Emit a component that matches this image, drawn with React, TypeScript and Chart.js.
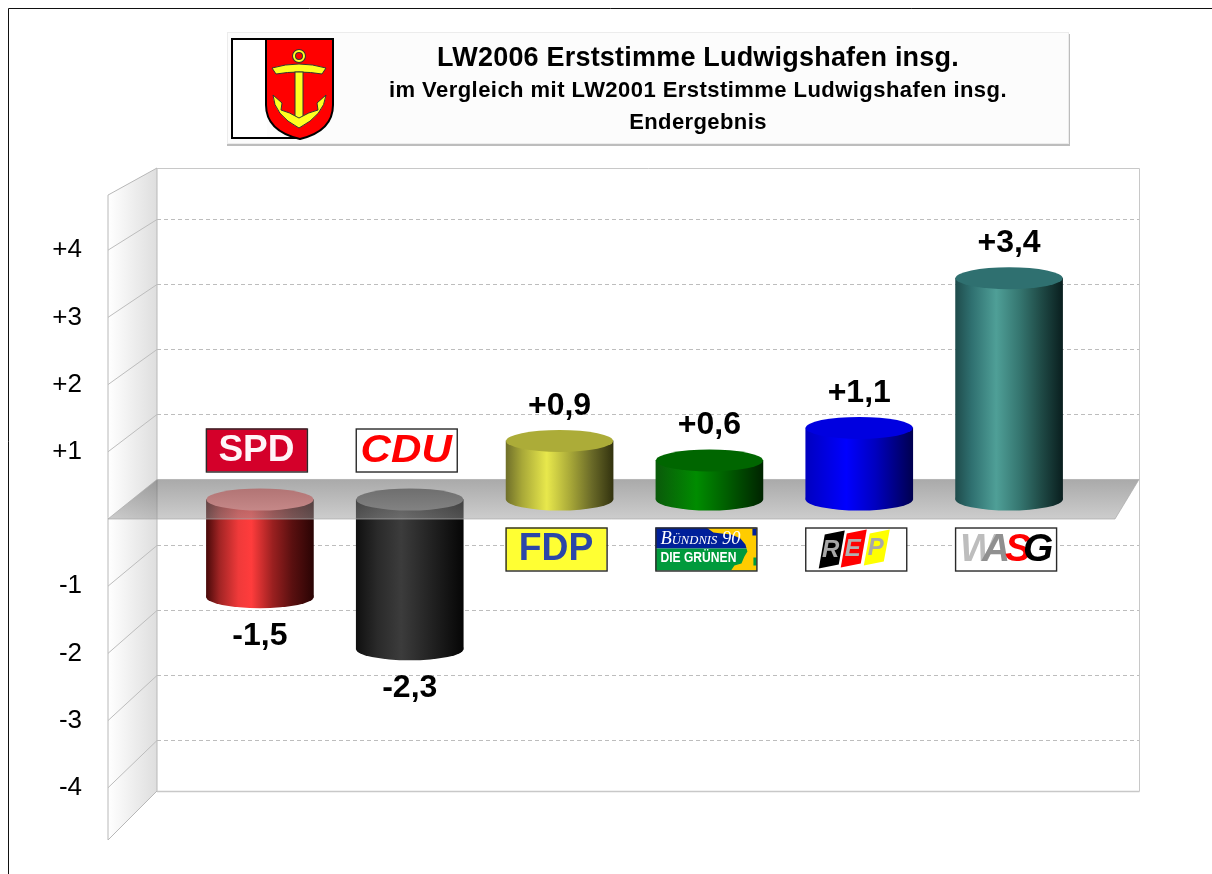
import React, { useEffect, useRef } from "react";
import { Chart, registerables } from "chart.js";

Chart.register(...registerables);

const FONT = '"Liberation Sans", Arial, sans-serif';

const parties = ["SPD", "CDU", "FDP", "BÜNDNIS 90 / DIE GRÜNEN", "REP", "WASG"];
const changes = [-1.5, -2.3, 0.9, 0.6, 1.1, 3.4];
const negativeChanges = [-1.5, -2.3, null, null, null, null];
const positiveChanges = [null, null, 0.9, 0.6, 1.1, 3.4];
const axisTicks = [4, 3, 2, 1, -1, -2, -3, -4];
const gridValues = [4, 3, 2, 1, -1, -2, -3, -4];
const titleLines = [
  "LW2006 Erststimme Ludwigshafen insg.",
  "im Vergleich mit LW2001 Erststimme Ludwigshafen insg.",
  "Endergebnis",
];
const sideStops: [number, string][][] = [
  [[0, "#4a0a0a"], [0.12, "#a02424"], [0.3, "#f03a3a"], [0.42, "#ff3c3c"], [0.62, "#9a2020"], [0.8, "#5a1010"], [1, "#2a0404"]],
  [[0, "#101010"], [0.2, "#2a2a2a"], [0.42, "#3c3c3c"], [0.7, "#222222"], [1, "#060606"]],
  [[0, "#70702a"], [0.15, "#a8a838"], [0.38, "#e8e84c"], [0.6, "#a8a838"], [0.8, "#6a6a28"], [1, "#33330f"]],
  [[0, "#0a5a0a"], [0.38, "#008c00"], [0.65, "#006000"], [1, "#002400"]],
  [[0, "#0000c0"], [0.38, "#0000ff"], [0.65, "#0000c0"], [1, "#000050"]],
  [[0, "#1f4c4c"], [0.15, "#2f7070"], [0.38, "#4f9f97"], [0.6, "#357670"], [0.8, "#1f4a46"], [1, "#0a1f1f"]],
];
const capColors = ["#ff8484", "#787878", "#acac38", "#006600", "#0000e0", "#2f7070"];

const BAR_W = 107;
const RY = 11;

function fmt(v: number) {
  const s = Math.abs(v).toFixed(1).replace(".", ",");
  return (v > 0 ? "+" : "-") + s;
}

function label(c: CanvasRenderingContext2D, t: string, x: number, y: number, font: string, color: string, sx = 1) {
  c.save();
  c.font = font;
  c.fillStyle = color;
  c.textAlign = "center";
  c.textBaseline = "middle";
  c.translate(x, y);
  c.scale(sx, 1);
  c.fillText(t, 0, 0);
  c.restore();
}

function box(c: CanvasRenderingContext2D, x: number, y: number, w: number, h: number, fill: string) {
  c.fillStyle = fill;
  c.fillRect(x, y, w, h);
}

function frameBox(c: CanvasRenderingContext2D, x: number, y: number, w: number, h: number) {
  c.strokeStyle = "#2a2a2a";
  c.lineWidth = 1.4;
  c.strokeRect(x + 0.5, y + 0.5, w, h);
}

function para(c: CanvasRenderingContext2D, x: number, y: number, w: number, h: number, skew: number, fill: string) {
  c.fillStyle = fill;
  c.beginPath();
  c.moveTo(x + skew, y + 4);
  c.lineTo(x + skew + w, y);
  c.lineTo(x + w, y + h - 4);
  c.lineTo(x, y + h);
  c.closePath();
  c.fill();
}

function drawLogo(c: CanvasRenderingContext2D, i: number, x: number, y: number) {
  const w = 101;
  const h = 43;
  const cx = x + w / 2;
  const cy = y + h / 2 + 1;
  if (i === 0) {
    box(c, x, y, w, h, "#d4002a");
    label(c, "SPD", cx, cy, `bold 37px ${FONT}`, "#fff4f8");
  } else if (i === 1) {
    box(c, x, y, w, h, "#fff");
    label(c, "CDU", cx, cy, `italic bold 39px ${FONT}`, "#ff0000", 1.08);
  } else if (i === 2) {
    box(c, x, y, w, h, "#ffff33");
    label(c, "FDP", cx, cy, `bold 38px ${FONT}`, "#2b46a8", 0.98);
  } else if (i === 3) {
    box(c, x, y, w, 21, "#00209a");
    box(c, x, y + 21, w, h - 21, "#009a3c");
    c.save();
    c.beginPath();
    c.rect(x, y, w, h);
    c.clip();
    c.fillStyle = "#ffcc00";
    c.beginPath();
    c.moveTo(x + 51, y);
    c.lineTo(x + 102, y);
    c.lineTo(x + 102, y + 44);
    c.lineTo(x + 75, y + 44);
    c.lineTo(x + 79, y + 38);
    c.lineTo(x + 86, y + 36);
    c.lineTo(x + 89, y + 29);
    c.lineTo(x + 92, y + 24);
    c.lineTo(x + 90, y + 17);
    c.lineTo(x + 85, y + 11);
    c.lineTo(x + 76, y + 7);
    c.lineTo(x + 66, y + 6);
    c.lineTo(x + 58, y + 5);
    c.closePath();
    c.fill();
    c.restore();
    c.fillStyle = "#00209a";
    c.fillRect(x + 97, y + 1, 4, 7);
    c.fillStyle = "#009a3c";
    c.fillRect(x + 98, y + 30, 3, 8);
    c.save();
    c.font = "italic small-caps 19px 'Liberation Serif', serif";
    c.fillStyle = "#ffffff";
    c.textBaseline = "middle";
    c.fillText("Bündnis 90", x + 5, y + 11, 80);
    c.font = `bold 14px ${FONT}`;
    c.fillText("DIE GRÜNEN", x + 5, y + 31, 76);
    c.restore();
  } else if (i === 4) {
    box(c, x, y, w, h, "#fff");
    para(c, cx - 37, y + 3, 20, 38, 6, "#000");
    para(c, cx - 15, y + 2, 20, 38, 6, "#ff0000");
    para(c, cx + 8, y + 2, 20, 36, 6, "#ffff00");
    label(c, "R", cx - 25, cy, `italic bold 24px ${FONT}`, "#a8a8a8");
    label(c, "E", cx - 3, cy - 1, `italic bold 24px ${FONT}`, "#b0b0b0");
    label(c, "P", cx + 20, cy - 2, `italic bold 24px ${FONT}`, "#a8a8a8");
  } else {
    box(c, x, y, w, h, "#fff");
    c.save();
    c.font = `italic bold 39px ${FONT}`;
    c.textBaseline = "middle";
    c.textAlign = "left";
    c.fillStyle = "#bdbdbd";
    c.fillText("W", x + 5, cy);
    c.fillStyle = "#909090";
    c.fillText("A", x + 27, cy);
    c.fillStyle = "#ff0000";
    c.fillText("S", x + 50, cy);
    c.fillStyle = "#000";
    c.fillText("G", x + 68, cy);
    c.restore();
  }
  frameBox(c, x, y, w, h);
}

function drawArms(c: CanvasRenderingContext2D) {
  c.save();
  c.fillStyle = "#fff";
  c.fillRect(231, 38, 36, 100);
  c.strokeStyle = "#000";
  c.lineWidth = 2;
  c.beginPath();
  c.moveTo(266, 39);
  c.lineTo(232, 39);
  c.lineTo(232, 138);
  c.lineTo(300, 138);
  c.stroke();
  c.beginPath();
  c.moveTo(266, 39);
  c.lineTo(333, 39);
  c.lineTo(333, 105);
  c.quadraticCurveTo(333, 131, 300, 139);
  c.quadraticCurveTo(266, 131, 266, 105);
  c.closePath();
  c.fillStyle = "#ff0000";
  c.fill();
  c.stroke();
  c.fillStyle = "#ffff20";
  c.beginPath();
  c.arc(299, 56, 5, 0, Math.PI * 2);
  c.lineWidth = 4;
  c.strokeStyle = "#333";
  c.stroke();
  c.lineWidth = 2;
  c.strokeStyle = "#ffff20";
  c.stroke();
  c.lineWidth = 1;
  c.strokeStyle = "#333";
  c.beginPath();
  c.moveTo(272, 68);
  c.quadraticCurveTo(299, 60, 326, 68);
  c.lineTo(322, 74);
  c.quadraticCurveTo(299, 70, 276, 74);
  c.closePath();
  c.fill();
  c.stroke();
  c.fillRect(295, 72, 8, 48);
  c.strokeRect(295, 72, 8, 48);
  c.beginPath();
  c.moveTo(273, 95);
  c.quadraticCurveTo(274, 115, 299, 128);
  c.quadraticCurveTo(324, 115, 326, 95);
  c.lineTo(317, 103);
  c.lineTo(318, 110);
  c.quadraticCurveTo(309, 112, 299, 118);
  c.quadraticCurveTo(289, 112, 281, 110);
  c.lineTo(282, 103);
  c.closePath();
  c.fill();
  c.stroke();
  c.restore();
}

const scene = {
  id: "scene",
  beforeDraw(chart: any) {
    const c: CanvasRenderingContext2D = chart.ctx;
    c.save();
    c.fillStyle = "#fff";
    c.fillRect(0, 0, chart.width, chart.height);
    c.strokeStyle = "#111";
    c.lineWidth = 1;
    c.beginPath();
    c.moveTo(8.5, 874);
    c.lineTo(8.5, 8.5);
    c.lineTo(1212, 8.5);
    c.stroke();
    c.fillStyle = "#bdbdbd";
    c.fillRect(227, 34, 843, 112);
    c.fillStyle = "#fcfcfc";
    c.fillRect(228, 33, 840, 110);
    c.strokeStyle = "#ececec";
    c.strokeRect(227.5, 32.5, 841, 111);
    drawArms(c);
    c.restore();
  },
  beforeDatasetsDraw(chart: any) {
    const c: CanvasRenderingContext2D = chart.ctx;
    const back = chart.scales.yBack;
    const front = chart.scales.yFront;
    const bars = chart.scales.yBars;
    const x = chart.scales.x;
    const L0 = 108;
    const L1 = 157;
    const R1 = 1139;
    const topV = 4.785;
    const botV = -4.785;
    const bt = back.getPixelForValue(topV);
    const bb = back.getPixelForValue(botV);
    const ft = front.getPixelForValue(4.82);
    const fb = front.getPixelForValue(-4.777);
    c.save();
    const g = c.createLinearGradient(L0, 0, L1, 0);
    g.addColorStop(0, "#ffffff");
    g.addColorStop(1, "#dedede");
    c.fillStyle = g;
    c.beginPath();
    c.moveTo(L0, ft);
    c.lineTo(L1, bt);
    c.lineTo(L1, bb);
    c.lineTo(L0, fb);
    c.closePath();
    c.fill();
    c.strokeStyle = "#b8b8b8";
    c.lineWidth = 1;
    c.stroke();
    c.strokeStyle = "#c8c8c8";
    c.lineWidth = 1;
    c.beginPath();
    c.moveTo(L1, bt + 0.5);
    c.lineTo(R1 + 0.5, bt + 0.5);
    c.lineTo(R1 + 0.5, bb + 0.5);
    c.stroke();
    c.lineWidth = 1.5;
    c.beginPath();
    c.moveTo(L1, bb + 0.5);
    c.lineTo(R1 + 0.5, bb + 0.5);
    c.stroke();
    gridValues.forEach((v) => {
      const yb = Math.round(back.getPixelForValue(v)) + 0.5;
      c.strokeStyle = "#bdbdbd";
      c.lineWidth = 1;
      c.setLineDash([4, 3]);
      c.beginPath();
      c.moveTo(L1, yb);
      c.lineTo(R1, yb);
      c.stroke();
      c.setLineDash([]);
      c.beginPath();
      c.moveTo(L1, yb);
      c.lineTo(L0, front.getPixelForValue(v));
      c.stroke();
    });
    const zero = bars.getPixelForValue(0);
    parties.forEach((_, i) => {
      const lx = x.getPixelForValue(i) - 54;
      const ly = changes[i] < 0 ? zero - 71 : zero + 28;
      drawLogo(c, i, lx, ly);
    });
    c.restore();
  },
  beforeDatasetDraw(chart: any, args: any) {
    if (args.index !== 0) return;
    const c: CanvasRenderingContext2D = chart.ctx;
    const back = chart.scales.yBack;
    const front = chart.scales.yFront;
    const yb = back.getPixelForValue(0);
    const yf = front.getPixelForValue(0);
    c.save();
    const g = c.createLinearGradient(0, yb, 0, yf);
    g.addColorStop(0, "rgba(85,85,85,0.5)");
    g.addColorStop(1, "rgba(155,155,155,0.5)");
    c.fillStyle = g;
    c.beginPath();
    c.moveTo(157, yb);
    c.lineTo(1139, yb);
    c.lineTo(1115, yf);
    c.lineTo(108, yf);
    c.closePath();
    c.fill();
    c.strokeStyle = "rgba(170,170,170,0.7)";
    c.lineWidth = 1;
    c.stroke();
    c.restore();
  },
  afterDatasetDraw(chart: any, args: any) {
    const c: CanvasRenderingContext2D = chart.ctx;
    const meta = args.meta;
    c.save();
    meta.data.forEach((el: any, i: number) => {
      const raw = chart.data.datasets[args.index].data[i];
      if (raw === null || raw === undefined) return;
      const rx = el.width / 2;
      const low = Math.max(el.y, el.base);
      const high = Math.min(el.y, el.base);
      c.fillStyle = el.options.backgroundColor;
      c.fillRect(el.x - rx, low - 2, rx * 2, 3);
      c.beginPath();
      c.ellipse(el.x, low, rx, RY, 0, 0, Math.PI);
      c.closePath();
      c.fill();
      c.fillStyle = capColors[i];
      c.beginPath();
      c.ellipse(el.x, high, rx, RY, 0, 0, Math.PI * 2);
      c.fill();
    });
    c.restore();
  },
  afterDatasetsDraw(chart: any) {
    const c: CanvasRenderingContext2D = chart.ctx;
    const bars = chart.scales.yBars;
    const x = chart.scales.x;
    changes.forEach((v, i) => {
      const y = bars.getPixelForValue(v) + (v > 0 ? -35 : 39);
      label(c, fmt(v), x.getPixelForValue(i), y, `bold 32px ${FONT}`, "#000");
    });
  },
};

export default function App() {
  const ref = useRef<HTMLCanvasElement | null>(null);
  useEffect(() => {
    document.body.style.margin = "0";
    document.body.style.background = "#fff";
    const chart = new Chart(ref.current as HTMLCanvasElement, {
      type: "bar",
      data: {
        labels: parties,
        datasets: [
          { label: "Gewinne", data: positiveChanges, yAxisID: "yBars", grouped: false, barThickness: BAR_W, backgroundColor: grad },
          { label: "Verluste", data: negativeChanges, yAxisID: "yBars", grouped: false, barThickness: BAR_W, backgroundColor: grad },
        ] as any,
      },
      plugins: [scene as any],
      options: {
        responsive: false,
        animation: false,
        events: [],
        layout: { autoPadding: false, padding: { top: 168, bottom: 34, right: 128, left: 0 } },
        plugins: { legend: { display: false }, title: { display: false }, tooltip: { enabled: false } },
        scales: {
          x: { display: false, type: "category" },
          yFront: {
            position: "left",
            min: -4.777,
            max: 5.223,
            grid: { display: false, drawTicks: false },
            border: { display: false },
            afterBuildTicks: (s: any) => {
              s.ticks = axisTicks.map((v) => ({ value: v }));
            },
            afterFit: (s: any) => {
              s.width = 185;
              s.paddingTop = 0;
              s.paddingBottom = 0;
              s.paddingLeft = 0;
              s.paddingRight = 0;
            },
            ticks: {
              autoSkip: false,
              padding: 103,
              color: "#000",
              font: { family: FONT, size: 26 },
              callback: (v: any) => (Number(v) > 0 ? "+" + v : String(v)),
            },
          },
          yBack: { display: false, min: -5.538, max: 4.785 },
          yBars: { display: false, min: -5.23, max: 5.092 },
        },
      } as any,
    });
    return () => chart.destroy();
  }, []);

  const lineStyle = (y: number, size: number, h: number, ls: number): React.CSSProperties => ({
    position: "absolute",
    left: 340,
    width: 716,
    top: y - h / 2,
    height: h,
    lineHeight: h + "px",
    textAlign: "center",
    fontFamily: FONT,
    fontWeight: "bold",
    fontSize: size,
    letterSpacing: ls,
    color: "#000",
    whiteSpace: "nowrap",
  });

  return (
    <div style={{ position: "relative", width: 1212, height: 874, overflow: "hidden" }}>
      <canvas ref={ref} width={1212} height={874} style={{ display: "block" }} />
      <div style={lineStyle(57, 27, 30, 0.2)}>{titleLines[0]}</div>
      <div style={lineStyle(90, 22, 26, 0.45)}>{titleLines[1]}</div>
      <div style={lineStyle(122, 22, 26, 0.4)}>{titleLines[2]}</div>
    </div>
  );
}

function grad(ctx: any) {
  const chart = ctx.chart;
  const i = ctx.dataIndex;
  if (!chart.chartArea || i === undefined) return "#888";
  const cx = chart.scales.x.getPixelForValue(i);
  const g = chart.ctx.createLinearGradient(cx - BAR_W / 2, 0, cx + BAR_W / 2, 0);
  sideStops[i].forEach(([p, col]: [number, string]) => g.addColorStop(p, col));
  return g;
}
